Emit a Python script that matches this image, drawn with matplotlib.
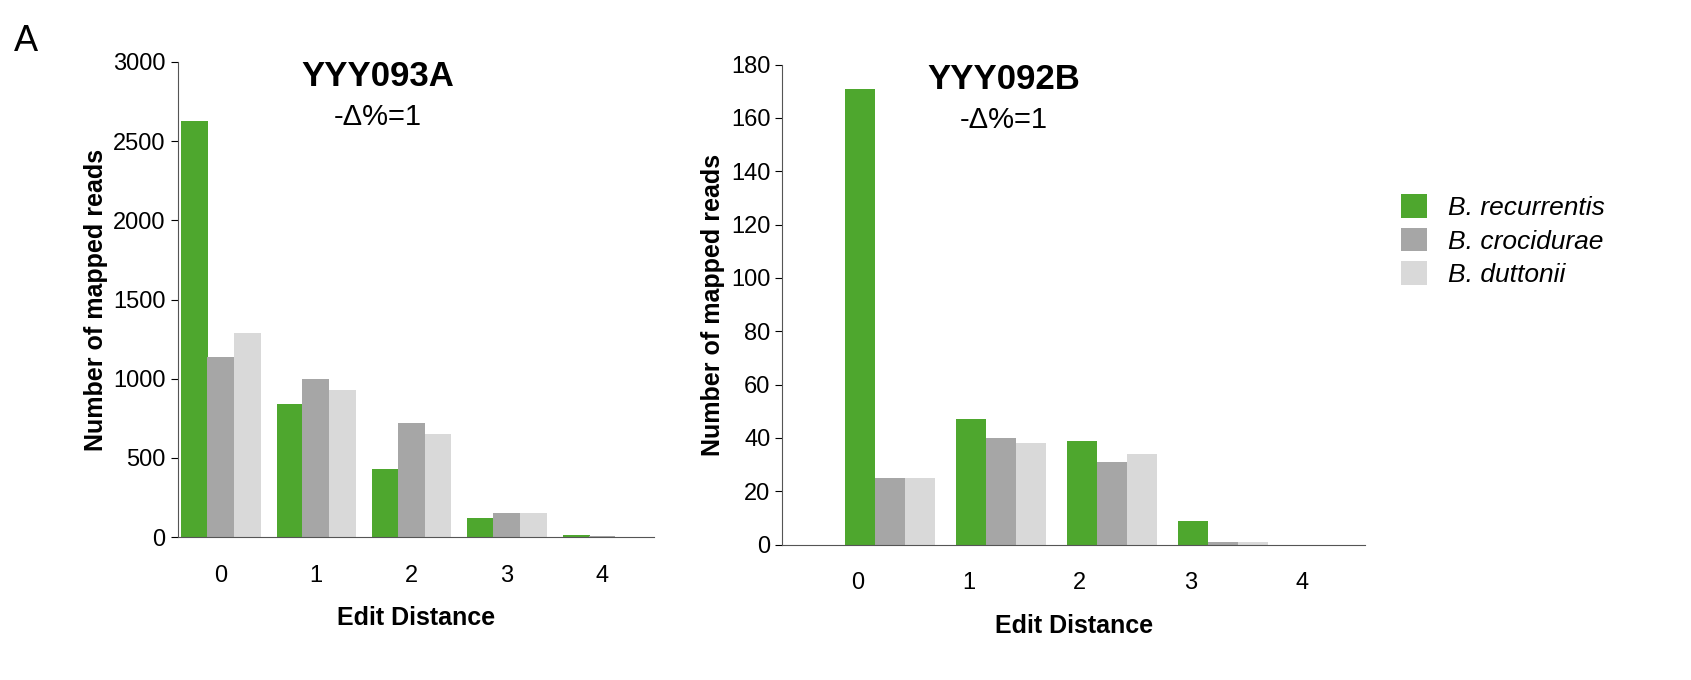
import matplotlib
matplotlib.use("Agg")
import matplotlib.pyplot as plt
import numpy as np

plt.rcParams['font.family'] = 'Liberation Sans'

categories = [0, 1, 2, 3, 4]
series = ["B. recurrentis", "B. crocidurae", "B. duttonii"]
colors = ["#4ea72e", "#a6a6a6", "#d9d9d9"]
left_vals = [[2630, 840, 430, 120, 15], [1140, 1000, 720, 150, 5], [1290, 930, 650, 150, 3]]
right_vals = [[171, 47, 39, 9, 0], [25, 40, 31, 1, 0], [25, 38, 34, 1, 0]]

fig = plt.figure(figsize=(16.91, 6.8), dpi=100)
axL = fig.add_axes([0.105, 0.210, 0.282, 0.699])
axR = fig.add_axes([0.4625, 0.199, 0.345, 0.706])

def draw(ax, vals, offs, w, ylim, yticks, xlim, title, tx):
    x = np.arange(len(categories))
    for i, (v, c) in enumerate(zip(vals, colors)):
        ax.bar(x + offs[i], v, width=w, color=c, label=series[i])
    ax.set_xlim(*xlim)
    ax.set_ylim(*ylim)
    ax.set_yticks(yticks)
    ax.set_xticks(x)
    ax.set_xticklabels([str(c) for c in categories])
    ax.tick_params(axis='x', length=0, pad=20, labelsize=17)
    ax.tick_params(axis='y', labelsize=17, length=5)
    for s in ['top', 'right']:
        ax.spines[s].set_visible(False)
    ax.spines['left'].set_color('#555555')
    ax.spines['bottom'].set_color('#555555')
    ax.set_xlabel("Edit Distance", fontsize=18, fontweight='bold', labelpad=14)
    ax.set_ylabel("Number of mapped reads", fontsize=18, fontweight='bold')
    ax.text(tx, 0.97, title, transform=ax.transAxes, fontsize=25, fontweight='bold', ha='center', va='center')
    ax.text(tx, 0.885, "-Δ%=1", transform=ax.transAxes, fontsize=21, ha='center', va='center')

draw(axL, left_vals, [-0.27, 0.0, 0.28], 0.28, (0, 3000), range(0, 3001, 500), (-0.45, 4.55), "YYY093A", 0.42)
draw(axR, right_vals, [0.02, 0.29, 0.56], 0.27, (0, 180), range(0, 181, 20), (-0.68, 4.57), "YYY092B", 0.38)

leg = axR.legend(loc='upper left', bbox_to_anchor=(1.02, 0.78), frameon=False, fontsize=19,
                 handlelength=1.0, handleheight=1.0, labelspacing=0.3)
for t in leg.get_texts():
    t.set_fontstyle('italic')

fig.text(0.008, 0.925, "A", fontsize=26)
fig.savefig("out.png", dpi=100)
